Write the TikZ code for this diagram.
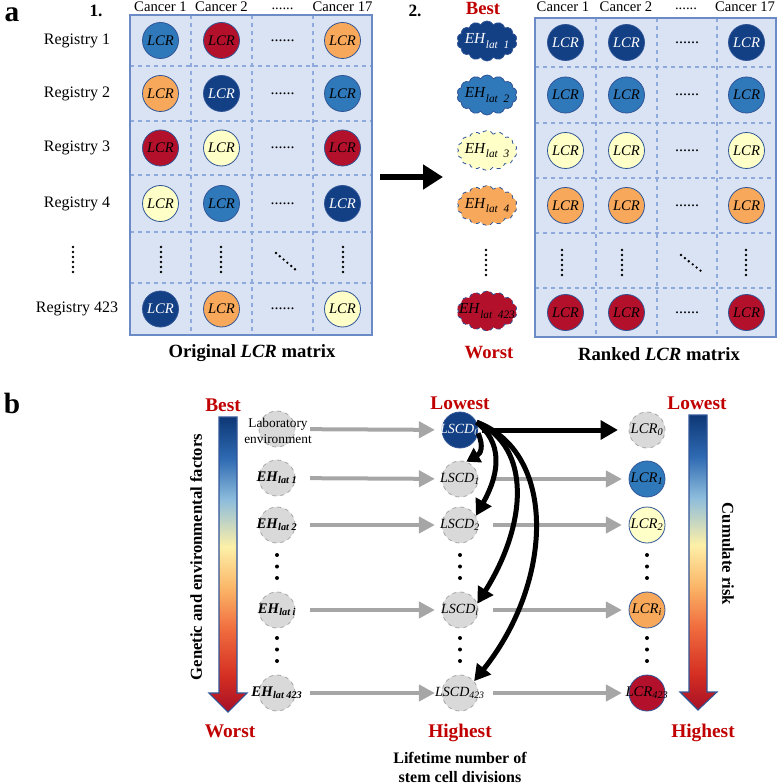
\documentclass[tikz,border=0pt]{standalone}
\usepackage{fontspec}
\setmainfont{Liberation Serif}
\usetikzlibrary{arrows.meta,shapes.symbols,positioning}

\definecolor{navyc}{HTML}{133F84}
\definecolor{bluec}{HTML}{2F78BA}
\definecolor{yellowc}{HTML}{FFFFC8}
\definecolor{orangec}{HTML}{F8A85A}
\definecolor{redc}{HTML}{B3112B}
\definecolor{cellbg}{HTML}{DAE3F3}
\definecolor{gridc}{HTML}{8EAADB}
\definecolor{framec}{HTML}{6A8BC6}
\definecolor{rimc}{HTML}{2F5597}
\definecolor{titlered}{HTML}{C00000}
\definecolor{greyfill}{HTML}{D9D9D9}
\definecolor{greyline}{HTML}{A6A6A6}
\definecolor{shadeA}{HTML}{A50F26}
\definecolor{shadeB}{HTML}{D42E22}
\definecolor{shadeC}{HTML}{F06C3E}
\definecolor{shadeD}{HTML}{FBB668}
\definecolor{shadeE}{HTML}{FDF0A8}
\definecolor{shadeF}{HTML}{8DBCDC}
\definecolor{shadeG}{HTML}{2E6AB2}
\definecolor{shadeH}{HTML}{0D3775}

\pgfdeclareverticalshading{riskshade}{100bp}{color(0bp)=(shadeA); color(25bp)=(shadeA); color(31bp)=(shadeB); color(39bp)=(shadeC); color(46bp)=(shadeD); color(53bp)=(shadeE); color(61bp)=(shadeF); color(68bp)=(shadeG); color(75bp)=(shadeH); color(100bp)=(shadeH)}

\newcommand{\ehlat}[1]{\makebox[0pt]{\textit{EH}\textsubscript{\textit{lat #1}}}}
\newcommand{\ehcl}[1]{\makebox[0pt]{\textit{EH}\raisebox{-0.3em}{\fontsize{8.5}{8.5}\selectfont\itshape lat\ \ #1}}}
\newcommand{\ctr}[1]{\makebox[0pt]{#1}}
\newcommand{\sixdots}{......}

\begin{document}
\begin{tikzpicture}[x=0.75pt,y=-0.75pt,
  lcr/.style={circle,draw=rimc,line width=0.6pt,minimum size=27pt,inner sep=0pt,font=\fontsize{11}{11}\selectfont\itshape},
  fnavy/.style={fill=navyc,text=white},
  fblue/.style={fill=bluec},
  fyellow/.style={fill=yellowc},
  forange/.style={fill=orangec},
  fred/.style={fill=redc},
  ehcloud/.style={cloud,cloud puffs=14,cloud puff arc=120,cloud ignores aspect,minimum width=45pt,minimum height=30pt,inner sep=0pt,draw=rimc,line width=0.6pt,font=\fontsize{11.5}{11.5}\selectfont},
  cellline/.style={gridc,line width=1pt,dashed},
  dotline/.style={line width=2pt,dash pattern=on 0pt off 3.75pt,line cap=round},
  headtext/.style={inner sep=1pt,font=\fontsize{11}{11}\selectfont},
  rowtext/.style={font=\fontsize{12}{12}\selectfont},
  redtitle/.style={text=titlered,font=\fontsize{14.5}{14.5}\selectfont\bfseries},
  gcirc/.style={circle,fill=greyfill,draw=greyline,dashed,line width=0.6pt,minimum size=27pt,inner sep=0pt,font=\fontsize{10.5}{10.5}\selectfont\itshape},
  greyarrow/.style={draw=greyline,line width=3pt,-{Triangle[length=12pt,width=12pt]},shorten <=11pt,shorten >=5pt},
  blackarrow/.style={line width=3.75pt,-{Triangle[length=12pt,width=13pt]}}
]
\useasboundingbox (0,0) rectangle (778,784);

% a. original matrix
\node[inner sep=0pt,font=\fontsize{22}{22}\selectfont\bfseries] (pa) at (12,15) {a};
\node[font=\fontsize{13}{13}\selectfont\bfseries] (stepone) at (96,11) {1.};
\fill[cellbg] (130,15) rectangle (372,335);
\foreach \x in {191,252,313} \draw[cellline] (\x,15) -- (\x,335);
\foreach \y in {66,121,175,232,283} \draw[cellline] (130,\y) -- (372,\y);
\draw[framec,line width=1.2pt] (130,15) rectangle (372,335);
\foreach \x/\t [count=\i] in {160.5/Cancer 1,221.5/Cancer 2,342.5/Cancer 17}
  \node[headtext] (oh\i) at (\x,7) {\t};
\node[headtext,inner sep=0pt] (ohdots) at (282.5,9) {\sixdots};
\foreach \r/\y/\a/\b/\d in {1/40.5/fblue/fred/forange,2/93.5/forange/fnavy/fblue,3/148/fred/fyellow/fred,4/203.5/fyellow/fblue/fnavy,423/309/fnavy/forange/fyellow}{
  \node[rowtext] (reg\r) at (77,\y) {Registry \r};
  \node[lcr,\a] (o\r-1) at (160.5,\y) {LCR};
  \node[lcr,\b] (o\r-2) at (221.5,\y) {LCR};
  \node[rowtext] (o\r-3) at (282.5,\y) {\sixdots};
  \node[lcr,\d] (o\r-4) at (342.5,\y) {LCR};
}
\foreach \x in {73,161,221,343} \draw[dotline] (\x,247) -- (\x,273);
\draw[dotline] (276,253) -- (297,271);
\node[font=\fontsize{14}{14}\selectfont\bfseries] (origcap) at (252,353) {Original \textit{LCR} matrix};

\coordinate (arrS) at (380,177);
\coordinate (arrE) at (443,177);
\draw[line width=4.5pt,-{Triangle[length=15pt,width=18pt]}] (arrS) -- (arrE);

% a. ranked matrix
\node[font=\fontsize{13}{13}\selectfont\bfseries] (steptwo) at (415,11) {2.};
\node[redtitle,font=\fontsize{14}{14}\selectfont\bfseries] (besta) at (483,8) {Best};
\node[redtitle,font=\fontsize{14}{14}\selectfont\bfseries] (worsta) at (489,353) {Worst};
\fill[cellbg] (535,18) rectangle (776,337);
\foreach \x in {596,657,717} \draw[cellline] (\x,18) -- (\x,337);
\foreach \y in {67,123,178,233,288} \draw[cellline] (535,\y) -- (776,\y);
\draw[framec,line width=1.2pt] (535,18) rectangle (776,337);
\foreach \x/\t [count=\i] in {563/Cancer 1,626/Cancer 2,745/Cancer 17}
  \node[headtext] (kh\i) at (\x,7) {\t};
\node[headtext,inner sep=0pt] (khdots) at (686,9) {\sixdots};
\foreach \r/\y/\f/\s in {1/41/fnavy/solid,2/95/fblue/solid,3/150.5/fyellow/dashed,4/205.5/forange/dashed,423/311/fred/dashed}{
  \node[ehcloud,\f,\s] (cl\r) at (487,\y) {\ehcl{\r}};
}
\foreach \r/\y/\f in {1/42.5/fnavy,2/95/fblue,3/150.5/fyellow,4/205.5/forange,423/312.5/fred}{
  \node[lcr,\f] (k\r-1) at (565.5,\y) {LCR};
  \node[lcr,\f] (k\r-2) at (626.5,\y) {LCR};
  \node[rowtext] (k\r-3) at (687,\y) {\sixdots};
  \node[lcr,\f] (k\r-4) at (746.5,\y) {LCR};
}
\foreach \x in {486,562,622,746} \draw[dotline] (\x,250) -- (\x,276);
\draw[dotline] (681,255) -- (701,271);
\node[font=\fontsize{14}{14}\selectfont\bfseries] (rankcap) at (659,354) {Ranked \textit{LCR} matrix};

% b
\node[inner sep=0pt,font=\fontsize{22}{22}\selectfont\bfseries] (pb) at (12,403) {b};
\shadedraw[shading=riskshade,draw=rimc,line width=0.8pt] (219,417) -- (237,417) -- (237,693) -- (247,693) -- (228,712) -- (209,693) -- (219,693) -- cycle;
\shadedraw[shading=riskshade,draw=rimc,line width=0.8pt] (689,415) -- (707,415) -- (707,692) -- (717,692) -- (698,710) -- (680,692) -- (689,692) -- cycle;
\node[redtitle] (bestb) at (223,405) {Best};
\node[redtitle] (worstb) at (230,731) {Worst};
\node[redtitle] (lowm) at (460,403) {Lowest};
\node[redtitle] (highm) at (460,733) {Highest};
\node[redtitle] (lowr) at (697,403) {Lowest};
\node[redtitle] (highr) at (703,733) {Highest};
\node[rotate=90,font=\fontsize{12.5}{12.5}\selectfont\bfseries] (genlab) at (196,557) {Genetic and environmental factors};
\node[rotate=-90,font=\fontsize{12.5}{12.5}\selectfont\bfseries] (cumlab) at (728,554) {Cumulate risk};
\node[font=\fontsize{12}{14.25}\selectfont\bfseries,align=center] (lsn) at (460,767) {Lifetime number of\\stem cell divisions};

\node[gcirc] (e0) at (277,429) {};
\node[font=\fontsize{10}{11.5}\selectfont,align=center] (labenv) at (278,431) {Laboratory\\environment};
\foreach \n/\y in {1/478,2/525,i/610,423/693}
  \node[gcirc,font=\fontsize{11}{11}\selectfont\bfseries] (e\n) at (277,\y) {\ehlat{\n}};

\node[lcr,fnavy,font=\fontsize{10.5}{10.5}\selectfont\itshape] (l0) at (460,430) {\ctr{LSCD\textsubscript{0}}};
\foreach \n/\y in {1/479,2/525,i/610,423/693}
  \node[gcirc] (l\n) at (460,\y) {\ctr{LSCD\textsubscript{\n}}};

\node[gcirc,font=\fontsize{11}{11}\selectfont\itshape] (r0) at (647,430) {\ctr{LCR\textsubscript{0}}};
\node[lcr,fblue] (r1) at (647,479) {\ctr{LCR\textsubscript{1}}};
\node[lcr,fyellow] (r2) at (647,525) {\ctr{LCR\textsubscript{2}}};
\node[lcr,forange] (ri) at (647,610) {\ctr{LCR\textsubscript{i}}};
\node[lcr,fred] (r423) at (647,693) {\ctr{LCR\textsubscript{423}}};

\foreach \x in {277,460,647}
  \foreach \y in {555,566.5,578,638,649.5,661}
    \fill (\x,\y) circle (1.5pt);

\foreach \n in {0,1,2,i,423} \draw[greyarrow] (e\n) -- (l\n);
\foreach \n in {1,2,i,423} \draw[greyarrow] (l\n) -- (r\n);

\draw[blackarrow,-{Triangle[length=13pt,width=14pt]},shorten <=3pt,shorten >=8pt] (l0) -- (r0);
\draw[blackarrow,-{Triangle[length=10pt,width=12pt]}] (l0.-10) .. controls +(6,14) and +(14,-8) .. (l1.70);
\draw[blackarrow] (l0.25) .. controls +(25,20) and +(25,-45) .. (l2.30);
\draw[blackarrow] (l0.25) .. controls +(55,25) and +(50,-80) .. (li.20);
\draw[blackarrow] (l0.25) .. controls +(80,30) and +(80,-100) .. (l423.40);
\end{tikzpicture}
\end{document}
